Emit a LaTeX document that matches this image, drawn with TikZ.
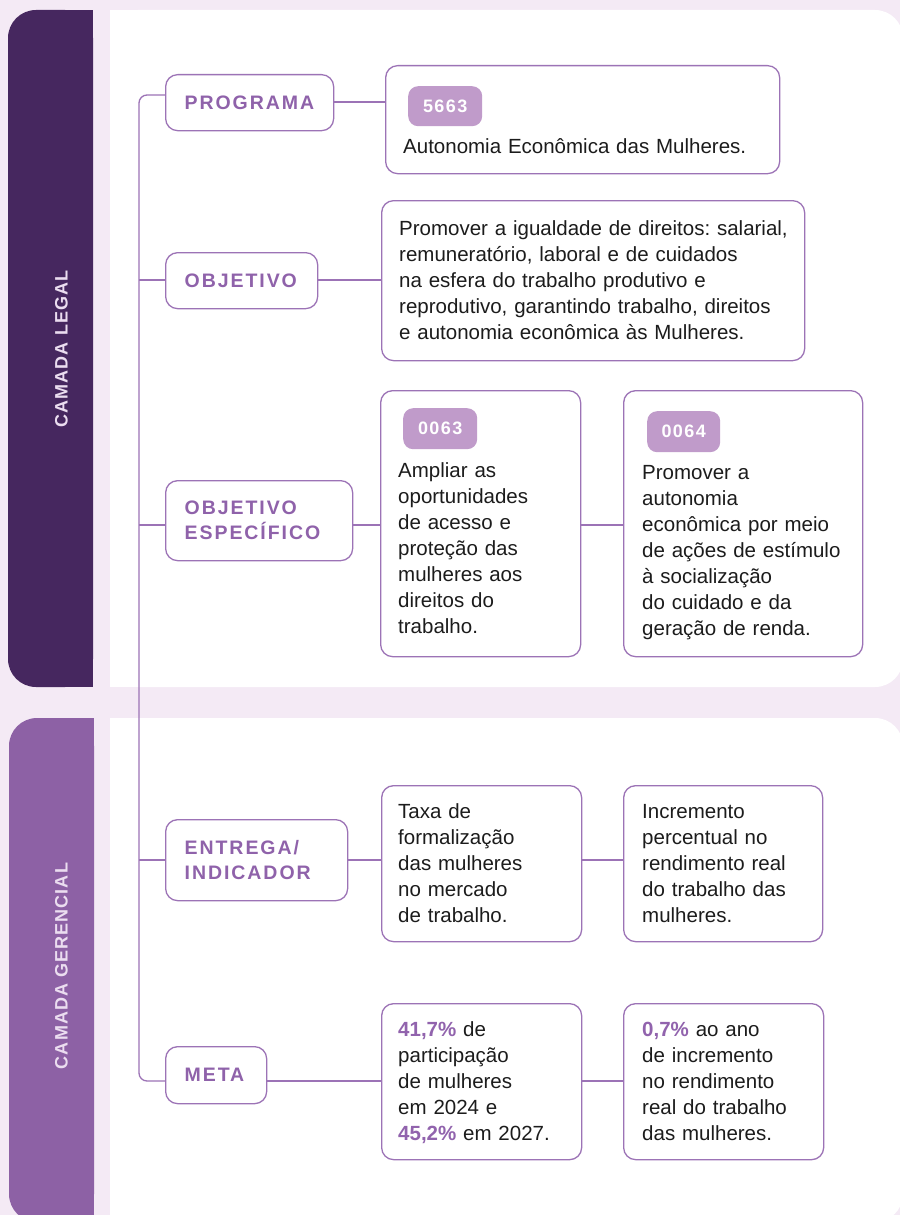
\documentclass[tikz,border=0pt]{standalone}
\usepackage{fontspec}
\setmainfont{Liberation Sans}
\newfontfamily\tagfamily[LetterSpace=10]{Liberation Sans}
\newfontfamily\sidefamily[LetterSpace=6]{Liberation Sans}
\newfontfamily\codefamily[LetterSpace=8]{Liberation Sans}

\definecolor{bgpink}{HTML}{F4EAF5}
\definecolor{legalviolet}{HTML}{46275F}
\definecolor{gerviolet}{HTML}{8D61A5}
\definecolor{lineviolet}{HTML}{9C73B6}
\definecolor{tagviolet}{HTML}{8F62AA}
\definecolor{badgeviolet}{HTML}{C09BCA}
\definecolor{sidetint}{HTML}{EBDDF0}
\definecolor{ink}{HTML}{1C1C1C}
\definecolor{numviolet}{HTML}{9163AD}

\newcommand\tagfont{\tagfamily\bfseries\fontsize{19.5}{25}\selectfont}
\newcommand\sidefont{\sidefamily\bfseries\fontsize{18}{20}\selectfont}
\newcommand\codefont{\codefamily\bfseries\fontsize{18}{20}\selectfont}
\newcommand\bodyfont{\fontsize{20.5}{26}\selectfont\frenchspacing}
\newcommand\hl[1]{\textbf{\color{numviolet}#1}}

\begin{document}
\begin{tikzpicture}[x=1pt, y=-1pt,
  linkline/.style={draw=lineviolet, line width=1.3pt},
  tagbox/.style={draw=lineviolet, line width=1.3pt, rounded corners=12,
    fill=white, anchor=north west, inner xsep=19, inner ysep=0,
    align=left, font=\tagfont, text=tagviolet},
  infobox/.style={draw=lineviolet, line width=1.3pt, rounded corners=12,
    fill=white, anchor=north west, inner sep=0},
  infotext/.style={anchor=base west, inner sep=0, align=left,
    font=\bodyfont, text=ink},
  codebadge/.style={fill=badgeviolet, rounded corners=10, anchor=north west,
    inner sep=0, font=\codefont, text=white},
  sidelabel/.style={rotate=90, inner sep=0, font=\sidefont, text=sidetint}]

\useasboundingbox (0,0) rectangle (900,1215);

% 背景
\fill[bgpink] (0,0) rectangle (900,1215);

\fill[legalviolet, rounded corners=28] (8,10) rectangle (93,687);
\fill[legalviolet] (60,10) rectangle (93,687);
\fill[white, rounded corners=28] (110,10) rectangle (903,687);
\fill[white] (110,10) rectangle (160,687);

\fill[gerviolet, rounded corners=28] (9,718) rectangle (94,1222);
\fill[gerviolet] (60,718) rectangle (94,1222);
\fill[white, rounded corners=28] (110,718) rectangle (903,1222);
\fill[white] (110,718) rectangle (160,1222);

\node[sidelabel] (legal) at (61.5,349) {CAMADA LEGAL};
\node[sidelabel] (gerencial) at (61.5,966) {CAMADA GERENCIAL};

% 定义点
\coordinate (trunk) at (139,0);
\coordinate (r0) at (0,95);
\coordinate (r1) at (0,102);
\coordinate (r2) at (0,280);
\coordinate (r3) at (0,525);
\coordinate (r4) at (0,860);
\coordinate (r5) at (0,1081);

% 左侧标签
\node[tagbox, text width=130, minimum height=56] (prog) at (165,74) {PROGRAMA};
\node[tagbox, text width=114, minimum height=56] (obj) at (165,252) {OBJETIVO};
\node[tagbox, text width=149, minimum height=80] (objesp) at (165,480)
  {OBJETIVO\\ESPECÍFICO};
\node[tagbox, text width=144, minimum height=81] (entrega) at (165,819)
  {ENTREGA/\\INDICADOR};
\node[tagbox, text width=63, minimum height=57] (meta) at (165,1046) {META};

% 内容框
\node[infobox, minimum width=394, minimum height=108] (progBox) at (385,65) {};
\node[infobox, minimum width=423, minimum height=160] (objBox) at (381,200) {};
\node[infobox, minimum width=200, minimum height=266] (esp1Box) at (380,390) {};
\node[infobox, minimum width=239, minimum height=266] (esp2Box) at (623,390) {};
\node[infobox, minimum width=200, minimum height=156] (ind1Box) at (381,785) {};
\node[infobox, minimum width=199, minimum height=156] (ind2Box) at (623,785) {};
\node[infobox, minimum width=200, minimum height=156] (meta1Box) at (381,1003) {};
\node[infobox, minimum width=200, minimum height=156] (meta2Box) at (623,1003) {};

\node[codebadge, minimum width=74, minimum height=40] (progCode) at (408,86) {5663};
\node[codebadge, minimum width=74, minimum height=41] (esp1Code) at (403,408) {0063};
\node[codebadge, minimum width=73, minimum height=41] (esp2Code) at (647,411) {0064};

\node[infotext, text width=370] (progTxt) at (403,153)
  {Autonomia Econômica das Mulheres.};
\node[infotext, text width=400] (objTxt) at (399,235)
  {Promover a igualdade de direitos: salarial,\\
   remuneratório, laboral e de cuidados\\
   na esfera do trabalho produtivo e\\
   reprodutivo, garantindo trabalho, direitos\\
   e autonomia econômica às Mulheres.};
\node[infotext, text width=170] (esp1Txt) at (398,477)
  {Ampliar as\\oportunidades\\de acesso e\\proteção das\\mulheres aos\\direitos do\\trabalho.};
\node[infotext, text width=212] (esp2Txt) at (642,479)
  {Promover a\\autonomia\\econômica por meio\\de ações de estímulo\\à socialização\\do cuidado e da\\geração de renda.};
\node[infotext, text width=170] (ind1Txt) at (398,818)
  {Taxa de\\formalização\\das mulheres\\no mercado\\de trabalho.};
\node[infotext, text width=170] (ind2Txt) at (642,818)
  {Incremento\\percentual no\\rendimento real\\do trabalho das\\mulheres.};
\node[infotext, text width=170] (meta1Txt) at (398,1036)
  {\hl{41,7\%} de\\participação\\de mulheres\\em 2024 e\\\hl{45,2\%} em 2027.};
\node[infotext, text width=170] (meta2Txt) at (642,1036)
  {\hl{0,7\%} ao ano\\de incremento\\no rendimento\\real do trabalho\\das mulheres.};

% 连线
\draw[linkline, rounded corners=8]
  (prog.west |- r0) -- (trunk |- r0) -- (trunk |- r5) -- (meta.west |- r5);
\draw[linkline] (trunk |- r2) -- (obj.west |- r2);
\draw[linkline] (trunk |- r3) -- (objesp.west |- r3);
\draw[linkline] (trunk |- r4) -- (entrega.west |- r4);

\draw[linkline] (prog.east |- r1) -- (progBox.west |- r1);
\draw[linkline] (obj.east |- r2) -- (objBox.west |- r2);
\draw[linkline] (objesp.east |- r3) -- (esp1Box.west |- r3);
\draw[linkline] (esp1Box.east |- r3) -- (esp2Box.west |- r3);
\draw[linkline] (entrega.east |- r4) -- (ind1Box.west |- r4);
\draw[linkline] (ind1Box.east |- r4) -- (ind2Box.west |- r4);
\draw[linkline] (meta.east |- r5) -- (meta1Box.west |- r5);
\draw[linkline] (meta1Box.east |- r5) -- (meta2Box.west |- r5);

\end{tikzpicture}
\end{document}
